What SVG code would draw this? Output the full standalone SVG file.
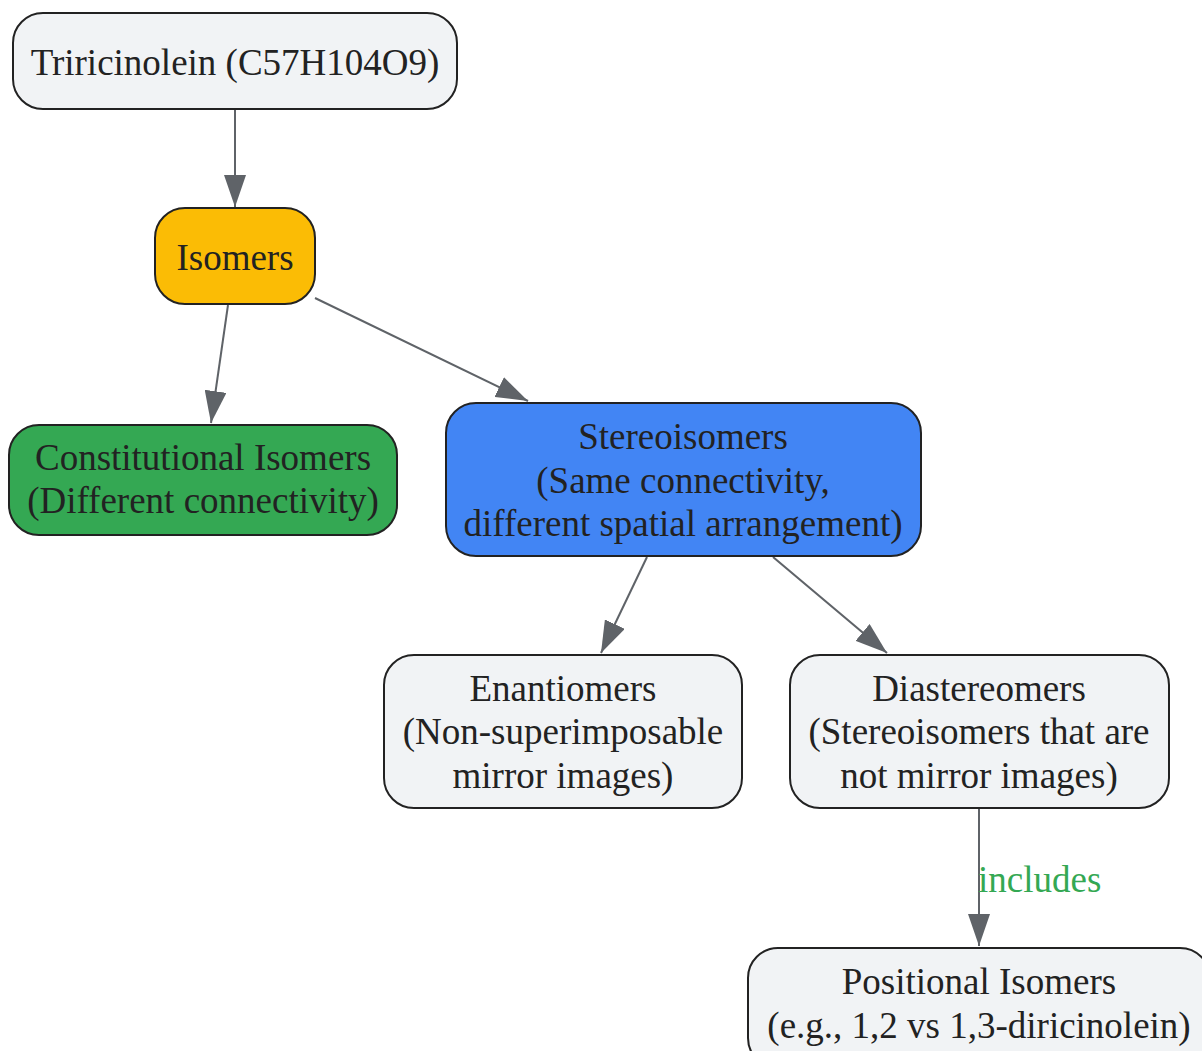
<svg xmlns="http://www.w3.org/2000/svg" width="1202" height="1051" viewBox="0 0 1202 1051">
<style>
.n{stroke:#222222;stroke-width:2}
.t{font-family:"Liberation Serif","Times New Roman",serif;font-size:37px;fill:#222222;text-anchor:middle}
.e{stroke:#5f6368;stroke-width:2;fill:none}
.lbl{font-family:"Liberation Serif","Times New Roman",serif;font-size:37px;fill:#34a853}
</style>
<defs>
<marker id="ah" viewBox="0 0 32 22" refX="32" refY="11" markerWidth="32" markerHeight="22" markerUnits="userSpaceOnUse" orient="auto">
<path d="M0,0 L32,11 L0,22 Z" fill="#5f6368"/>
</marker>
</defs>
<rect width="1202" height="1051" fill="#ffffff"/>
<g id="edges">
<line class="e" x1="235" y1="110" x2="235" y2="207" marker-end="url(#ah)"/>
<line class="e" x1="228" y1="305" x2="211" y2="423" marker-end="url(#ah)"/>
<line class="e" x1="315" y1="298" x2="528" y2="401" marker-end="url(#ah)"/>
<line class="e" x1="647" y1="557" x2="601" y2="653" marker-end="url(#ah)"/>
<line class="e" x1="773" y1="557" x2="887" y2="653" marker-end="url(#ah)"/>
<line class="e" x1="979" y1="809" x2="979" y2="946" marker-end="url(#ah)"/>
<text class="lbl" x="978" y="892">includes</text>
</g>
<g id="n1">
<rect class="n" x="13" y="13" width="444" height="96" rx="30" fill="#f1f3f5"/>
<text class="t" x="235" y="75">Triricinolein (C57H104O9)</text>
</g>
<g id="n2">
<rect class="n" x="155" y="208" width="160" height="96" rx="30" fill="#fbbc05"/>
<text class="t" x="235" y="270">Isomers</text>
</g>
<g id="n3">
<rect class="n" x="9" y="425" width="388" height="110" rx="30" fill="#34a853"/>
<text class="t" x="203" y="470">Constitutional Isomers</text>
<text class="t" x="203" y="513">(Different connectivity)</text>
</g>
<g id="n4">
<rect class="n" x="446" y="403" width="475" height="153" rx="30" fill="#4285f4"/>
<text class="t" x="683" y="449">Stereoisomers</text>
<text class="t" x="683" y="493">(Same connectivity,</text>
<text class="t" x="683" y="536">different spatial arrangement)</text>
</g>
<g id="n5">
<rect class="n" x="384" y="655" width="358" height="153" rx="30" fill="#f1f3f5"/>
<text class="t" x="563" y="701">Enantiomers</text>
<text class="t" x="563" y="744">(Non-superimposable</text>
<text class="t" x="563" y="788">mirror images)</text>
</g>
<g id="n6">
<rect class="n" x="790" y="655" width="379" height="153" rx="30" fill="#f1f3f5"/>
<text class="t" x="979" y="701">Diastereomers</text>
<text class="t" x="979" y="744">(Stereoisomers that are</text>
<text class="t" x="979" y="788">not mirror images)</text>
</g>
<g id="n7">
<rect class="n" x="748" y="948" width="462" height="120" rx="30" fill="#f1f3f5"/>
<text class="t" x="979" y="994">Positional Isomers</text>
<text class="t" x="979" y="1038">(e.g., 1,2 vs 1,3-diricinolein)</text>
</g>
</svg>
